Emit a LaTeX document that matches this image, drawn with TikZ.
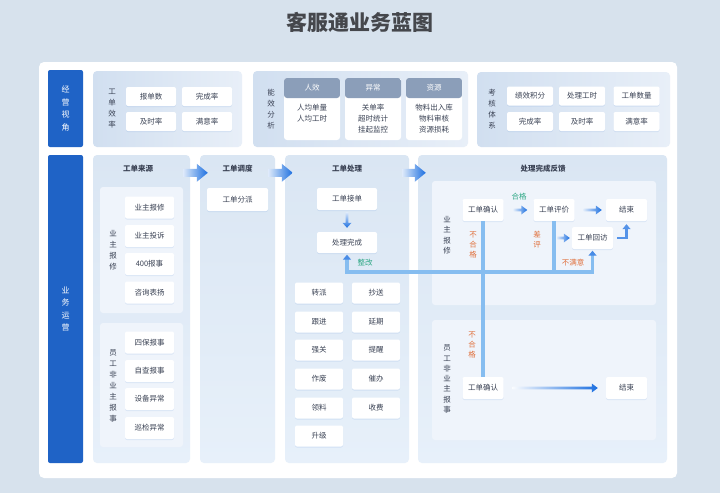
\documentclass[tikz,border=0pt]{standalone}
\usepackage{fontspec}
\setmainfont{Noto Sans CJK SC}
\usepackage{tikz}
\usetikzlibrary{arrows.meta,calc,shadows}
\definecolor{Page}{HTML}{D7E2ED}
\definecolor{Tag}{HTML}{1F63C6}
\definecolor{PanelL}{HTML}{D1DFF0}
\definecolor{PanelR}{HTML}{E8EFF8}
\definecolor{LaneT}{HTML}{DAE6F3}
\definecolor{LaneB}{HTML}{E7F0FA}
\definecolor{Sub}{HTML}{EFF4FB}
\definecolor{Head}{HTML}{8B9EB9}
\definecolor{Ink}{HTML}{3A4254}
\definecolor{TitleInk}{HTML}{45474C}
\definecolor{Flow}{HTML}{1C6FE0}
\definecolor{Back}{HTML}{86BDF0}
\definecolor{Pass}{HTML}{2FA886}
\definecolor{Fail}{HTML}{E0703C}

\begin{document}
\begin{tikzpicture}[x=1pt,y=-1pt,
  tag/.style={fill=Tag,text=white,rounded corners=2pt,minimum width=35pt,
    inner sep=0pt,align=center,font=\fontsize{8}{12.5}\selectfont},
  panel/.style={left color=PanelL,right color=PanelR,rounded corners=4pt,inner sep=0pt},
  lane/.style={top color=LaneT,bottom color=LaneB,rounded corners=4pt,inner sep=0pt,
    minimum height=308pt},
  subpanel/.style={fill=Sub,rounded corners=3pt,inner sep=0pt},
  btn/.style={fill=white,rounded corners=2pt,inner sep=0pt,text=Ink,
    font=\fontsize{7.5}{9}\selectfont,
    drop shadow={shadow xshift=0pt,shadow yshift=-1pt,opacity=0.10,fill=Tag}},
  kbtn/.style={btn,minimum width=50pt,minimum height=19pt},
  abtn/.style={btn,minimum width=46pt,minimum height=19pt},
  sbtn/.style={btn,minimum width=49pt,minimum height=22pt},
  pbtn/.style={btn,minimum width=48pt,minimum height=21pt},
  fbtn/.style={btn,minimum width=41pt,minimum height=22pt},
  vlabel/.style={align=center,text=Ink,inner sep=0pt,font=\fontsize{7.5}{11}\selectfont},
  lanetitle/.style={text=Ink,font=\bfseries\fontsize{7.5}{9}\selectfont},
  card/.style={fill=white,rounded corners=3pt,minimum width=56pt,minimum height=62pt,
    inner sep=0pt,path picture={\fill[Head] (path picture bounding box.north west)
      rectangle ([yshift=-20pt]path picture bounding box.north east);}},
  cardhead/.style={text=white,inner sep=0pt,font=\fontsize{7.5}{9}\selectfont},
  cardbody/.style={anchor=north,align=center,text=Ink,inner sep=0pt,
    font=\fontsize{7.5}{11}\selectfont},
  remark/.style={inner sep=0pt,align=center,font=\fontsize{7.5}{10}\selectfont},
  garrow/.style n args={3}{left color=Flow!15,right color=Flow,
    to path={let \p1=(\tikztostart),\p2=(\tikztotarget) in
      (\x1,\y1+#1) -- (\x2-#3,\y1+#1) -- (\x2-#3,\y1+#2) -- (\x2,\y1)
      -- (\x2-#3,\y1-#2) -- (\x2-#3,\y1-#1) -- (\x1,\y1-#1) -- cycle}},
  vgarrow/.style={top color=Flow!15,bottom color=Flow,
    to path={let \p1=(\tikztostart),\p2=(\tikztotarget) in
      (\x1-1.4pt,\y1) -- (\x1-1.4pt,\y2+5pt) -- (\x1-4.5pt,\y2+5pt) -- (\x1,\y2)
      -- (\x1+4.5pt,\y2+5pt) -- (\x1+1.4pt,\y2+5pt) -- (\x1+1.4pt,\y1) -- cycle}},
  backline/.style={Back,line width=3.2pt},
  backtip/.style={-{Triangle[length=5pt,width=8pt,color=Flow!80]},shorten >=1.5pt}]
  \fill[Page] (0,0) rectangle (720,493);
  \useasboundingbox (0,0) rectangle (720,493);
  \node[font=\bfseries\fontsize{21}{24}\selectfont,text=TitleInk] (title) at (360,22) {客服通业务蓝图};
  \fill[white,rounded corners=5pt] (39,62) rectangle (677,478);

  \node[tag,minimum height=77pt] (tagops) at (65.5,108.5) {经\\营\\视\\角};
  \node[panel,minimum width=149pt,minimum height=76pt] (kpi) at (167.5,109) {};
  \node[vlabel] (kpil) at (112,109) {工\\单\\效\\率};
  \node[kbtn] (k1) at (151,96.5) {报单数};
  \node[kbtn] (k2) at (207,96.5) {完成率};
  \node[kbtn] (k3) at (151,121.5) {及时率};
  \node[kbtn] (k4) at (207,121.5) {满意率};

  \node[panel,minimum width=215pt,minimum height=76pt] (eff) at (360.5,109) {};
  \node[vlabel] (effl) at (271,109) {能\\效\\分\\析};
  \node[card] (c1) at (312,109) {};
  \node[card] (c2) at (373,109) {};
  \node[card] (c3) at (434,109) {};
  \node[cardhead] (h1) at (312,88) {人效};
  \node[cardhead] (h2) at (373,88) {异常};
  \node[cardhead] (h3) at (434,88) {资源};
  \node[cardbody] (b1) at (312,104) {人均单量\\人均工时};
  \node[cardbody] (b2) at (373,104) {关单率\\超时统计\\挂起监控};
  \node[cardbody] (b3) at (434,104) {物料出入库\\物料审核\\资源损耗};

  \node[panel,minimum width=193pt,minimum height=75pt] (assess) at (573.5,109.5) {};
  \node[vlabel] (assessl) at (492,109) {考\\核\\体\\系};
  \node[abtn] (a1) at (530,96) {绩效积分};
  \node[abtn] (a2) at (582,96) {处理工时};
  \node[abtn] (a3) at (636.5,96) {工单数量};
  \node[abtn] (a4) at (530,121.5) {完成率};
  \node[abtn] (a5) at (582,121.5) {及时率};
  \node[abtn] (a6) at (636.5,121.5) {满意率};

  \node[tag,minimum height=308pt] (tagbiz) at (65.5,309) {业\\务\\运\\营};

  \node[lane,minimum width=97pt] (src) at (141.5,309) {};
  \node[lanetitle] (srct) at (138,169) {工单来源};
  \node[subpanel,minimum width=83pt,minimum height=126pt] (own) at (141.5,250) {};
  \node[vlabel] (ownl) at (113,250) {业\\主\\报\\修};
  \node[sbtn] (s1) at (149.5,207.5) {业主报修};
  \node[sbtn] (s2) at (149.5,236) {业主投诉};
  \node[sbtn] (s3) at (149.5,264) {400报事};
  \node[sbtn] (s4) at (149.5,292.5) {咨询表扬};
  \node[subpanel,minimum width=83pt,minimum height=124pt] (staff) at (141.5,385) {};
  \node[vlabel] (staffl) at (113,386) {员\\工\\非\\业\\主\\报\\事};
  \node[sbtn] (s5) at (149.5,342.5) {四保报事};
  \node[sbtn] (s6) at (149.5,371) {自查报事};
  \node[sbtn] (s7) at (149.5,399) {设备异常};
  \node[sbtn] (s8) at (149.5,428) {巡检异常};

  \node[lane,minimum width=75pt] (disp) at (237.5,309) {};
  \node[lanetitle] (dispt) at (237.5,169) {工单调度};
  \node[btn,minimum width=61pt,minimum height=23pt] (assign) at (237.5,199.5) {工单分派};

  \node[lane,minimum width=124pt] (proc) at (347,309) {};
  \node[lanetitle] (proct) at (347,169) {工单处理};
  \node[btn,minimum width=60pt,minimum height=22pt] (take) at (347,199) {工单接单};
  \node[btn,minimum width=60pt,minimum height=21pt] (done) at (347,242.5) {处理完成};
  \node[pbtn] (p1) at (319,293) {转派};
  \node[pbtn] (p2) at (376,293) {抄送};
  \node[pbtn] (p3) at (319,322) {跟进};
  \node[pbtn] (p4) at (376,322) {延期};
  \node[pbtn] (p5) at (319,350) {强关};
  \node[pbtn] (p6) at (376,350) {提醒};
  \node[pbtn] (p7) at (319,379) {作废};
  \node[pbtn] (p8) at (376,379) {催办};
  \node[pbtn] (p9) at (319,408) {领料};
  \node[pbtn] (p10) at (376,408) {收费};
  \node[pbtn] (p11) at (319,436) {升级};

  \node[lane,minimum width=249pt] (fb) at (542.5,309) {};
  \node[lanetitle] (fbt) at (543,169) {处理完成反馈};
  \node[subpanel,minimum width=224pt,minimum height=124pt] (fbown) at (544,243) {};
  \node[subpanel,minimum width=224pt,minimum height=120pt] (fbstaff) at (544,380) {};
  \node[vlabel,font=\fontsize{7.5}{10.5}\selectfont] (fbownl) at (447,235) {业\\主\\报\\修};
  \node[vlabel,font=\fontsize{7.5}{10.3}\selectfont] (fbstaffl) at (447,379) {员\\工\\非\\业\\主\\报\\事};
  \node[fbtn] (conf1) at (483,210) {工单确认};
  \node[fbtn] (rate) at (554,210) {工单评价};
  \node[fbtn] (end1) at (626.5,210) {结束};
  \node[fbtn] (visit) at (592.5,238) {工单回访};
  \node[fbtn] (conf2) at (483,388) {工单确认};
  \node[fbtn] (end2) at (626.5,388) {结束};

  \foreach \a/\b in {src/disp,disp/proc,proc/fb}
    \shade[garrow={4pt}{9pt}{11pt}] ($(\a.north east)+(-7,18)$) to ($(\b.north west)+(8,18)$);

  \coordinate (fbrow) at (0,272);
  \draw[backline] (conf1.south) -- (conf2.north);
  \draw[backline] (rate.south) -- (rate.south |- fbrow);
  \draw[backline,backtip] (rate.south |- fbrow) -- (done.south |- fbrow) -- (done.south);
  \draw[backline,backtip] (rate.south |- fbrow) -- (visit.south |- fbrow) -- (visit.south);

  \shade[vgarrow] ([yshift=-2pt]take.south) to ([yshift=4pt]done.north);
  \shade[garrow={1.4pt}{4.5pt}{6pt}] ([xshift=10pt]conf1.east) to ([xshift=-6pt]rate.west);
  \shade[garrow={1.4pt}{4.5pt}{6pt}] ([xshift=9pt]rate.east) to ([xshift=-4pt]end1.west);
  \coordinate (split) at (rate.south |- visit.west);
  \shade[garrow={1.4pt}{4.5pt}{6pt}] ([xshift=3pt]split) to ([xshift=-2pt]visit.west);
  \draw[Flow!75,line width=2.2pt,-{Triangle[length=5pt,width=8pt]},shorten <=4pt,shorten >=3pt]
    (visit.east) -| (end1.south);
  \shade[garrow={1.4pt}{4.5pt}{6pt},left color=Flow!3] ([xshift=9pt]conf2.east) to ([xshift=-8pt]end2.west);

  \node[remark,text=Pass] (passl) at (519,197) {合格};
  \node[remark,text=Fail] (fail1) at (473,245) {不\\合\\格};
  \node[remark,text=Fail] (badl) at (537,240) {差\\评};
  \node[remark,text=Fail] (unsat) at (573,263) {不满意};
  \node[remark,text=Pass] (fixl) at (365,263) {整改};
  \node[remark,text=Fail] (fail2) at (472,345) {不\\合\\格};
\end{tikzpicture}
\end{document}
